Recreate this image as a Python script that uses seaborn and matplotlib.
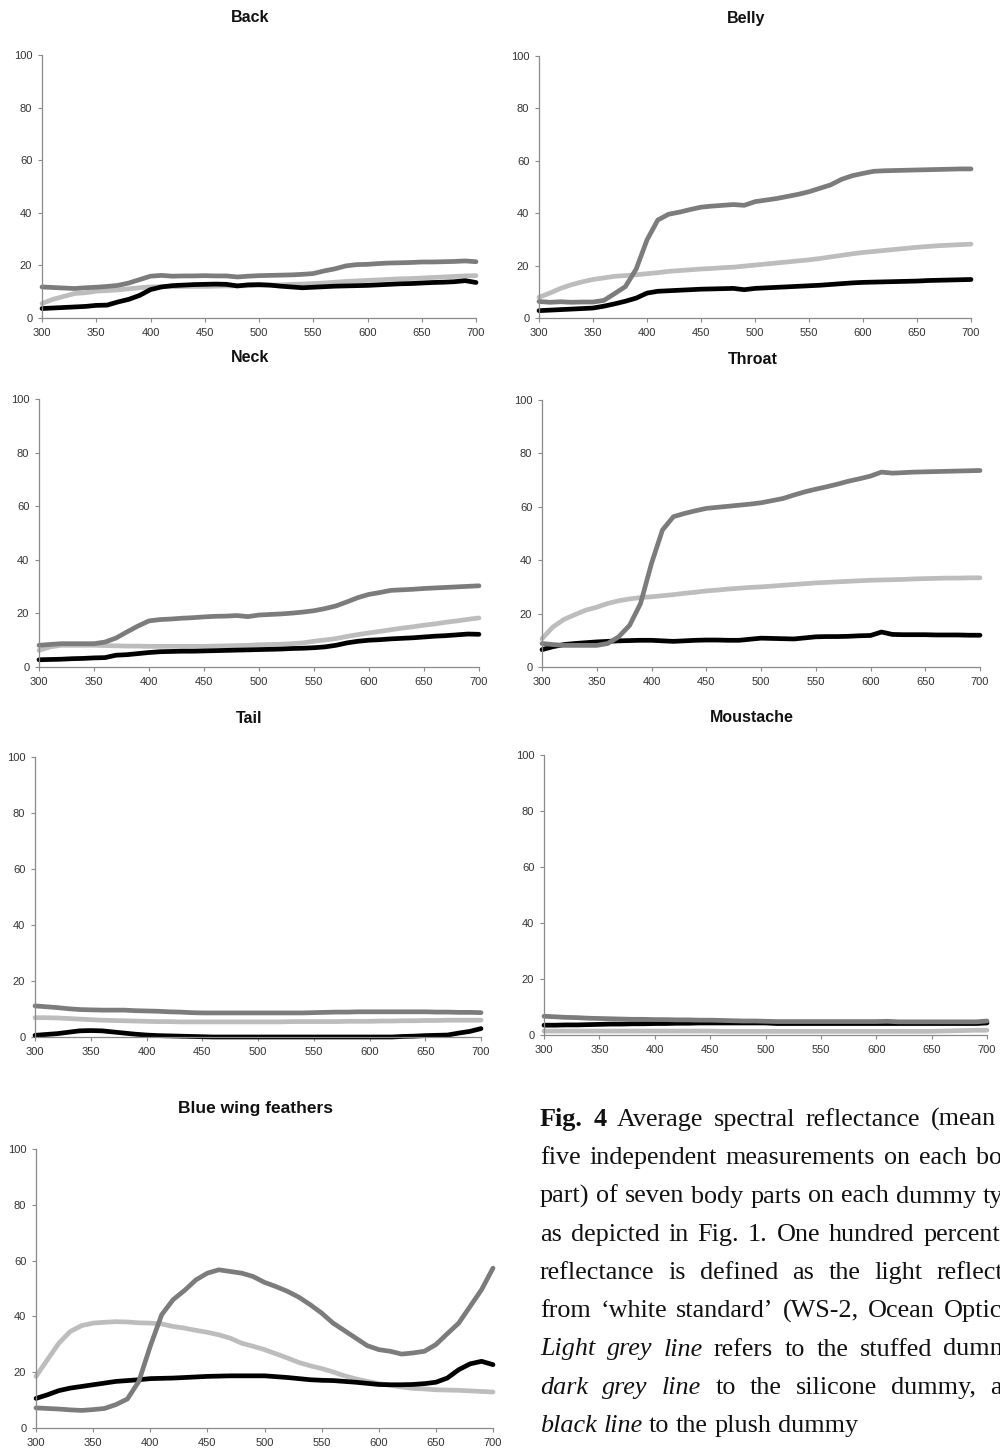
import matplotlib
matplotlib.use("Agg")
import matplotlib.pyplot as plt
import seaborn as sns
import pandas as pd

# ---------------------------------------------------------------- data
WAVELENGTH = list(range(300, 701, 10))  # nm

BACK_STUFFED = [5.5, 7.1, 8.2, 9.3, 9.6, 10.2, 10.4, 10.7, 11.1, 11.5, 11.8,
                11.9, 11.9, 12.0, 12.0, 12.0, 12.1, 12.2, 12.2, 12.3, 12.4,
                12.5, 12.6, 12.8, 12.9, 13.1, 13.3, 13.6, 13.9, 14.1, 14.3,
                14.5, 14.7, 14.9, 15.0, 15.2, 15.4, 15.6, 15.8, 16.0, 16.1]
BACK_PLUSH = [3.6, 3.8, 4.0, 4.2, 4.4, 4.8, 4.9, 6.1, 7.1, 8.6, 10.8,
              11.8, 12.3, 12.5, 12.7, 12.8, 12.9, 12.8, 12.2, 12.6, 12.7,
              12.5, 12.1, 11.8, 11.5, 11.7, 11.9, 12.1, 12.2, 12.3, 12.4,
              12.6, 12.8, 13.0, 13.1, 13.3, 13.5, 13.6, 13.8, 14.2, 13.5]
BACK_SILICONE = [11.8, 11.6, 11.4, 11.2, 11.5, 11.7, 12.0, 12.4, 13.3, 14.6, 15.9,
                 16.2, 15.9, 16.0, 16.0, 16.1, 16.0, 16.0, 15.6, 15.9, 16.1,
                 16.2, 16.3, 16.4, 16.6, 16.9, 17.9, 18.7, 19.8, 20.3, 20.4,
                 20.7, 20.9, 21.0, 21.1, 21.3, 21.3, 21.4, 21.5, 21.7, 21.4]

BELLY_STUFFED = [7.9, 9.5, 11.3, 12.7, 13.8, 14.7, 15.3, 15.9, 16.2, 16.5, 16.9,
                 17.3, 17.8, 18.1, 18.4, 18.7, 18.9, 19.2, 19.4, 19.8, 20.2,
                 20.6, 21.0, 21.4, 21.8, 22.2, 22.7, 23.3, 23.9, 24.5, 25.0,
                 25.4, 25.8, 26.2, 26.6, 27.0, 27.3, 27.6, 27.8, 28.0, 28.2]
BELLY_PLUSH = [2.8, 3.0, 3.2, 3.4, 3.6, 3.8, 4.5, 5.4, 6.4, 7.6, 9.5,
               10.2, 10.4, 10.6, 10.8, 11.0, 11.1, 11.2, 11.3, 10.8, 11.3,
               11.5, 11.7, 11.9, 12.1, 12.3, 12.5, 12.8, 13.1, 13.4, 13.6,
               13.7, 13.8, 13.9, 14.0, 14.1, 14.3, 14.4, 14.5, 14.6, 14.7]
BELLY_SILICONE = [6.3, 6.0, 6.2, 6.0, 6.1, 6.1, 6.7, 9.3, 12.0, 18.7, 29.8,
                  37.4, 39.6, 40.4, 41.4, 42.3, 42.7, 43.0, 43.3, 43.0, 44.4,
                  45.0, 45.6, 46.4, 47.2, 48.2, 49.5, 50.8, 52.9, 54.3, 55.2,
                  56.0, 56.2, 56.3, 56.4, 56.5, 56.6, 56.7, 56.8, 56.9, 56.9]

NECK_STUFFED = [6.2, 7.5, 8.1, 8.1, 8.1, 8.1, 8.0, 7.9, 7.8, 7.8, 7.7,
                7.7, 7.7, 7.7, 7.7, 7.7, 7.8, 7.9, 8.0, 8.1, 8.3,
                8.4, 8.5, 8.7, 9.0, 9.6, 10.1, 10.6, 11.4, 12.1, 12.7,
                13.3, 13.9, 14.5, 15.0, 15.6, 16.1, 16.7, 17.2, 17.8, 18.3]
NECK_PLUSH = [2.7, 2.8, 2.9, 3.1, 3.2, 3.4, 3.5, 4.4, 4.6, 5.0, 5.4,
              5.7, 5.8, 5.9, 5.9, 6.0, 6.1, 6.2, 6.3, 6.4, 6.5,
              6.6, 6.7, 6.9, 7.0, 7.2, 7.5, 8.1, 9.0, 9.6, 10.0,
              10.2, 10.5, 10.7, 10.9, 11.2, 11.5, 11.7, 12.0, 12.3, 12.2]
NECK_SILICONE = [8.1, 8.4, 8.7, 8.7, 8.7, 8.7, 9.3, 10.8, 13.1, 15.3, 17.2,
                 17.7, 17.9, 18.2, 18.4, 18.7, 18.9, 19.0, 19.2, 18.8, 19.4,
                 19.6, 19.8, 20.1, 20.5, 21.0, 21.8, 22.8, 24.3, 25.9, 27.1,
                 27.8, 28.6, 28.8, 29.0, 29.3, 29.5, 29.7, 29.9, 30.1, 30.3]

THROAT_STUFFED = [10.6, 15.0, 17.8, 19.6, 21.3, 22.4, 23.8, 24.8, 25.5, 26.0, 26.3,
                  26.7, 27.1, 27.6, 28.0, 28.5, 28.8, 29.2, 29.5, 29.8, 30.0,
                  30.3, 30.6, 30.9, 31.2, 31.5, 31.7, 31.9, 32.1, 32.3, 32.5,
                  32.6, 32.7, 32.8, 33.0, 33.1, 33.2, 33.3, 33.3, 33.4, 33.4]
THROAT_PLUSH = [6.5, 7.6, 8.4, 8.8, 9.1, 9.4, 9.6, 9.8, 9.9, 10.0, 10.0,
                9.8, 9.6, 9.8, 10.0, 10.1, 10.1, 10.0, 10.0, 10.4, 10.8,
                10.7, 10.6, 10.5, 10.9, 11.3, 11.4, 11.4, 11.5, 11.7, 11.8,
                13.1, 12.2, 12.1, 12.1, 12.1, 12.0, 12.0, 12.0, 11.9, 11.9]
THROAT_SILICONE = [8.8, 8.4, 8.1, 8.1, 8.1, 8.1, 8.8, 11.3, 15.6, 23.8, 38.8,
                   51.3, 56.3, 57.5, 58.5, 59.4, 59.8, 60.2, 60.6, 61.0, 61.5,
                   62.3, 63.1, 64.4, 65.6, 66.6, 67.5, 68.5, 69.6, 70.5, 71.5,
                   73.0, 72.6, 72.8, 73.0, 73.1, 73.2, 73.3, 73.4, 73.5, 73.6]

TAIL_STUFFED = [6.9, 6.9, 6.8, 6.6, 6.4, 6.2, 6.0, 5.9, 5.8, 5.7, 5.6,
                5.5, 5.5, 5.4, 5.4, 5.4, 5.4, 5.4, 5.4, 5.4, 5.4,
                5.4, 5.4, 5.5, 5.5, 5.5, 5.5, 5.5, 5.6, 5.6, 5.6,
                5.7, 5.7, 5.8, 5.8, 5.9, 5.9, 6.0, 6.0, 6.0, 6.0]
TAIL_PLUSH = [0.6, 0.9, 1.2, 1.7, 2.2, 2.3, 2.2, 1.8, 1.4, 1.0, 0.7,
              0.5, 0.4, 0.3, 0.2, 0.1, 0.0, 0.0, 0.0, 0.0, 0.0,
              0.0, 0.0, 0.0, 0.0, 0.0, 0.0, 0.0, 0.0, 0.0, 0.0,
              0.0, 0.0, 0.2, 0.3, 0.5, 0.6, 0.7, 1.4, 2.0, 3.0]
TAIL_SILICONE = [11.1, 10.8, 10.5, 10.1, 9.8, 9.7, 9.6, 9.6, 9.6, 9.4, 9.3,
                 9.2, 9.0, 8.9, 8.7, 8.6, 8.6, 8.6, 8.6, 8.6, 8.6,
                 8.6, 8.6, 8.6, 8.6, 8.7, 8.8, 8.9, 8.9, 9.0, 9.0,
                 9.0, 9.0, 9.0, 9.0, 9.0, 8.9, 8.9, 8.8, 8.8, 8.7]

MOUSTACHE_STUFFED = [1.4, 1.4, 1.4, 1.4, 1.4, 1.4, 1.4, 1.4, 1.4, 1.4, 1.4,
                     1.4, 1.4, 1.4, 1.4, 1.4, 1.3, 1.3, 1.3, 1.3, 1.3,
                     1.3, 1.3, 1.3, 1.3, 1.3, 1.3, 1.3, 1.3, 1.3, 1.3,
                     1.3, 1.3, 1.3, 1.3, 1.3, 1.4, 1.5, 1.6, 1.7, 1.7]
MOUSTACHE_PLUSH = [3.5, 3.5, 3.6, 3.6, 3.7, 3.8, 3.9, 3.9, 4.0, 4.0, 4.1,
                   4.1, 4.2, 4.2, 4.3, 4.3, 4.3, 4.3, 4.3, 4.3, 4.3,
                   4.1, 4.1, 4.1, 4.1, 4.1, 4.1, 4.1, 4.1, 4.1, 4.1,
                   4.1, 4.1, 4.1, 4.1, 4.1, 4.1, 4.1, 4.1, 4.1, 4.3]
MOUSTACHE_SILICONE = [6.7, 6.5, 6.3, 6.2, 6.0, 5.9, 5.8, 5.7, 5.6, 5.6, 5.5,
                      5.5, 5.4, 5.4, 5.3, 5.3, 5.2, 5.1, 5.0, 5.0, 4.9,
                      4.8, 4.8, 4.8, 4.8, 4.8, 4.8, 4.8, 4.8, 4.8, 4.8,
                      4.9, 4.7, 4.7, 4.7, 4.7, 4.7, 4.7, 4.7, 4.7, 5.0]

WING_STUFFED = [18.5, 24.5, 30.4, 34.6, 36.7, 37.6, 37.9, 38.1, 38.0, 37.7, 37.6,
                37.3, 36.4, 35.8, 35.0, 34.3, 33.4, 32.2, 30.4, 29.3, 28.1,
                26.6, 25.1, 23.5, 22.3, 21.3, 20.1, 18.7, 17.6, 16.7, 15.9,
                15.3, 14.7, 14.2, 14.0, 13.7, 13.6, 13.5, 13.3, 13.1, 12.9]
WING_PLUSH = [10.6, 11.9, 13.4, 14.3, 14.9, 15.5, 16.1, 16.7, 17.0, 17.3, 17.7,
              17.8, 17.9, 18.1, 18.3, 18.5, 18.6, 18.7, 18.7, 18.7, 18.7,
              18.4, 18.1, 17.7, 17.3, 17.1, 17.0, 16.7, 16.4, 16.0, 15.6,
              15.5, 15.5, 15.6, 15.9, 16.4, 17.9, 20.9, 23.0, 23.9, 22.7]
WING_SILICONE = [7.2, 7.0, 6.8, 6.5, 6.3, 6.6, 7.0, 8.4, 10.4, 16.7, 29.3,
                 40.6, 46.0, 49.3, 53.1, 55.5, 56.7, 56.1, 55.5, 54.3, 52.2,
                 50.7, 49.0, 46.9, 44.2, 41.2, 37.6, 34.9, 32.2, 29.5, 28.1,
                 27.5, 26.5, 26.9, 27.5, 29.9, 33.8, 37.6, 43.6, 49.6, 57.3]

PANEL_TITLES = ["Back", "Belly", "Neck", "Throat", "Tail", "Moustache",
                "Blue wing feathers"]
PANEL_SERIES = [
    (BACK_STUFFED, BACK_PLUSH, BACK_SILICONE),
    (BELLY_STUFFED, BELLY_PLUSH, BELLY_SILICONE),
    (NECK_STUFFED, NECK_PLUSH, NECK_SILICONE),
    (THROAT_STUFFED, THROAT_PLUSH, THROAT_SILICONE),
    (TAIL_STUFFED, TAIL_PLUSH, TAIL_SILICONE),
    (MOUSTACHE_STUFFED, MOUSTACHE_PLUSH, MOUSTACHE_SILICONE),
    (WING_STUFFED, WING_PLUSH, WING_SILICONE),
]
DUMMY_TYPES = ["stuffed", "plush", "silicone"]
X_TICKS = [300, 350, 400, 450, 500, 550, 600, 650, 700]
Y_TICKS = [0, 20, 40, 60, 80, 100]

CAPTION_LINES = [
    [("Fig. 4", "b"), ("Average spectral reflectance (mean of", "n")],
    [("five independent measurements on each body", "n")],
    [("part) of seven body parts on each dummy type", "n")],
    [("as depicted in Fig. 1. One hundred percent", "n")],
    [("reflectance is defined as the light reflected", "n")],
    [("from \u2018white standard\u2019 (WS-2, Ocean Optics).", "n")],
    [("Light grey line", "i"), ("refers to the stuffed dummy,", "n")],
    [("dark grey line", "i"), ("to the silicone dummy, and", "n")],
    [("black line", "i"), ("to the plush dummy", "n")],
]

# ---------------------------------------------------------------- style
PALETTE = {"stuffed": "#bdbdbd", "plush": "#000000", "silicone": "#7c7c7c"}
AXIS_GREY = "#8a8a8a"
FIG_W, FIG_H, DPI = 10.0, 14.52, 100

# panel frames in pixels: left, right, top (y=100), bottom (y=0)
FRAMES = [
    (42, 476, 55, 318),
    (539, 971, 56, 318),
    (39, 479, 399, 667),
    (542, 980, 400, 667),
    (35, 481, 757, 1037),
    (544, 987, 755, 1035),
    (36, 493, 1149, 1428),
]
# title centres in pixels and font sizes
TITLE_POS = [(250, 18), (746, 19), (250, 358), (753, 360), (249, 719),
             (752, 717), (255, 1109)]
TITLE_SIZE = [11.5, 11.5, 11.5, 11.5, 11.5, 11.5, 12.5]

sns.set_style("white")
plt.rcParams["font.family"] = ["Liberation Sans", "DejaVu Sans"]

fig = plt.figure(figsize=(FIG_W, FIG_H), dpi=DPI)
W_PX, H_PX = FIG_W * DPI, FIG_H * DPI

for title, series, frame, tpos, tsize in zip(PANEL_TITLES, PANEL_SERIES, FRAMES,
                                            TITLE_POS, TITLE_SIZE):
    left, right, top, bottom = frame
    ax = fig.add_axes([left / W_PX, 1 - bottom / H_PX,
                       (right - left) / W_PX, (bottom - top) / H_PX])
    df = pd.concat([
        pd.DataFrame({"wavelength": WAVELENGTH, "reflectance": vals, "dummy": name})
        for name, vals in zip(DUMMY_TYPES, series)
    ], ignore_index=True)
    sns.lineplot(data=df, x="wavelength", y="reflectance", hue="dummy",
                 hue_order=DUMMY_TYPES, palette=PALETTE, linewidth=3.4,
                 estimator=None, sort=False, legend=False, ax=ax)
    for ln in ax.lines:
        ln.set_clip_on(False)
        ln.set_solid_joinstyle("round")
    ax.set_xlim(300, 700)
    ax.set_ylim(0, 100)
    ax.set_xticks(X_TICKS)
    ax.set_yticks(Y_TICKS)
    ax.set_xlabel("")
    ax.set_ylabel("")
    ax.set_facecolor("white")
    sns.despine(ax=ax)
    for side in ("left", "bottom"):
        ax.spines[side].set_color(AXIS_GREY)
        ax.spines[side].set_linewidth(0.9)
    ax.tick_params(axis="both", direction="out", length=3, width=0.8,
                   color=AXIS_GREY, labelsize=8, labelcolor="#333333", pad=4)
    ax.tick_params(axis="both", which="both", bottom=True, left=True)
    fig.text(tpos[0] / W_PX, 1 - tpos[1] / H_PX, title, ha="center",
             va="center", fontsize=tsize, fontweight="bold", color="#111111")

# ---------------------------------------------------------------- caption
# justified column that runs past the right edge of the page
CAP_X0 = 540
CAP_X1 = [1028, 1028, 1028, 1000, 1028, 1028, 1028, 1028, 1028]
CAP_Y0, CAP_STEP = 1126, 38.25
CAP_SIZE = 18.8

renderer = fig.canvas.get_renderer()
space_px = 0.25 * CAP_SIZE * DPI / 72
for i, line in enumerate(CAPTION_LINES):
    words = [(w, style) for seg, style in line for w in seg.split()]
    texts = []
    for w, style in words:
        t = fig.text(0, 0, w, fontsize=CAP_SIZE,
                     family=["Liberation Serif", "DejaVu Serif"],
                     fontweight="bold" if style == "b" else "normal",
                     fontstyle="italic" if style == "i" else "normal",
                     ha="left", va="baseline", color="#111111")
        texts.append(t)
    widths = [t.get_window_extent(renderer).width for t in texts]
    last = i == len(CAPTION_LINES) - 1
    if last or len(words) < 2:
        gap = space_px
    else:
        gap = (CAP_X1[i] - CAP_X0 - sum(widths)) / (len(words) - 1)
    x = CAP_X0
    y = CAP_Y0 + i * CAP_STEP
    for t, w in zip(texts, widths):
        t.set_position((x / W_PX, 1 - y / H_PX))
        x += w + gap

fig.savefig("out.png", dpi=DPI, facecolor="white")
